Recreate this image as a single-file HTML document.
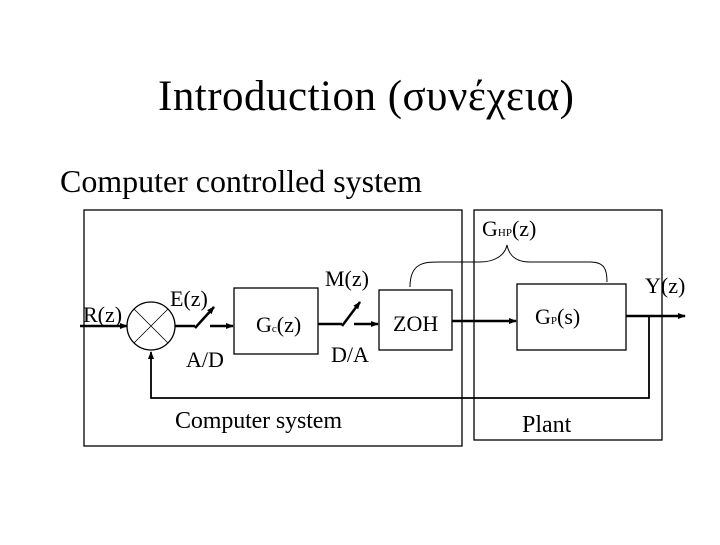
<!DOCTYPE html>
<html><head><style>
body{margin:0;background:#fff;}
svg text{font-family:"Liberation Serif",serif;fill:#000;}
</style></head><body>
<svg width="720" height="540" xmlns="http://www.w3.org/2000/svg">
<defs><marker id="a" markerWidth="8" markerHeight="8" refX="7" refY="4" orient="auto" markerUnits="userSpaceOnUse"><path d="M0,1 L8,4 L0,7 Z" fill="#000"/></marker></defs>
<text x="366" y="110" font-size="43" text-anchor="middle" textLength="416">Introduction (συνέχεια)</text>
<text x="60" y="192" font-size="32" textLength="362">Computer controlled system</text>
<g fill="none" stroke="#000" stroke-width="1.3">
<rect x="84" y="210" width="378" height="236"/>
<rect x="474" y="210" width="188" height="230"/>
<rect x="234" y="288" width="84" height="66"/>
<rect x="379" y="290" width="73" height="60"/>
<rect x="517" y="284" width="109" height="66"/>
<circle cx="151" cy="326" r="24"/>
<path d="M134,309 L168,343 M168,309 L134,343" stroke-width="0.8"/>
<path d="M410,287 C410,262 425,262 440,262 L480,262 C495,262 505,255 507,245 C509,255 515,262 530,262 L590,262 C605,262 607,270 607,282" stroke-width="1"/>
</g>
<g fill="none" stroke="#000" stroke-width="2.5">
<line x1="80" y1="326" x2="127" y2="326" marker-end="url(#a)"/>
<line x1="175" y1="326" x2="195" y2="326"/>
<line x1="195" y1="328" x2="214" y2="307" marker-end="url(#a)"/>
<line x1="210" y1="326" x2="233" y2="326" marker-end="url(#a)"/>
<line x1="318" y1="324" x2="342" y2="324"/>
<line x1="342" y1="326" x2="360" y2="302" marker-end="url(#a)"/>
<line x1="354" y1="324" x2="378" y2="324" marker-end="url(#a)"/>
<line x1="452" y1="321" x2="516" y2="321" marker-end="url(#a)"/>
<line x1="626" y1="316" x2="685" y2="316" marker-end="url(#a)"/>
</g>
<g fill="none" stroke="#000" stroke-width="1.8">
<polyline points="649,316 649,398 151,398 151,352" marker-end="url(#a)"/>
</g>
<g font-size="22">
<text x="83" y="322">R(z)</text>
<text x="170" y="306">E(z)</text>
<text x="186" y="367">A/D</text>
<text x="256" y="332">G<tspan font-size="11">c</tspan>(z)</text>
<text x="325" y="286">M(z)</text>
<text x="331" y="362">D/A</text>
<text x="393" y="331">ZOH</text>
<text x="535" y="324">G<tspan font-size="11">P</tspan>(s)</text>
<text x="482" y="236">G<tspan font-size="11">HP</tspan>(z)</text>
<text x="645" y="293">Y(z)</text>
<text x="175" y="428" font-size="24" textLength="167">Computer system</text>
<text x="522" y="432" font-size="24">Plant</text>
</g>
</svg>
</body></html>
